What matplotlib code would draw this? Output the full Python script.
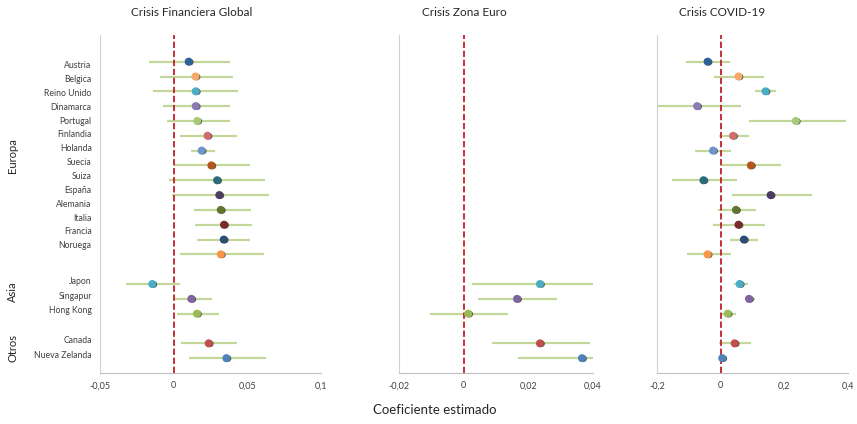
import numpy as np
import matplotlib.pyplot as plt
import matplotlib.patheffects as pe
from matplotlib.transforms import blended_transform_factory

plt.rcParams['font.family'] = ['Lato', 'DejaVu Sans']

countries = ["Austria", "Belgica", "Reino Unido", "Dinamarca", "Portugal", "Finlandia",
             "Holanda", "Suecia", "Suiza", "España", "Alemania", "Italia", "Francia",
             "Noruega", "Japon", "Singapur", "Hong Kong", "Canada", "Nueva Zelanda"]
groups = ["Europa"] * 14 + ["Asia"] * 3 + ["Otros"] * 2
colors = ["#30609A", "#F9A86A", "#4BACC6", "#8C7AB5", "#A9C97A", "#CD6F6C",
          "#6C95CC", "#B5561A", "#2A6B7C", "#4D3B62", "#5F7530", "#772C2A", "#2C4D75",
          "#F79646", "#4BACC6", "#8064A2", "#9BBB59", "#C0504D", "#4F81BD"]

# Crisis Financiera Global
gfc_est = [0.0102, 0.0148, 0.015, 0.015, 0.016, 0.023, 0.019, 0.0256, 0.0295, 0.031,
           0.032, 0.0342, 0.034, 0.032, -0.0145, 0.012, 0.0158, 0.0238, 0.0358]
gfc_lo = [-0.017, -0.0095, -0.014, -0.0075, -0.0045, 0.004, 0.012, 0.0, -0.003, -0.0014,
          0.0136, 0.0148, 0.016, 0.004, -0.0324, 0.0, 0.002, 0.005, 0.0104]
gfc_hi = [0.038, 0.040, 0.044, 0.038, 0.038, 0.043, 0.028, 0.052, 0.062, 0.0646,
          0.0526, 0.0535, 0.052, 0.061, 0.0043, 0.026, 0.0307, 0.0428, 0.0627]

# Crisis Zona Euro (solo Asia y Otros)
euro_est = [np.nan] * 14 + [0.0236, 0.0165, 0.0014, 0.0236, 0.0366]
euro_lo = [np.nan] * 14 + [0.0027, 0.0044, -0.0104, 0.0088, 0.0167]
euro_hi = [np.nan] * 14 + [0.040, 0.0289, 0.0138, 0.039, 0.040]

# Crisis COVID-19
covid_est = [-0.041, 0.056, 0.141, -0.074, 0.236, 0.039, -0.024, 0.095, -0.054, 0.157,
             0.048, 0.056, 0.073, -0.041, 0.060, 0.089, 0.022, 0.044, 0.005]
covid_lo = [-0.108, -0.021, 0.107, -0.198, 0.088, -0.004, -0.080, 0.0, -0.152, 0.035,
            -0.008, -0.025, 0.030, -0.105, 0.043, 0.077, -0.001, -0.005, -0.005]
covid_hi = [0.029, 0.136, 0.175, 0.063, 0.394, 0.090, 0.034, 0.190, 0.050, 0.287,
            0.111, 0.139, 0.116, 0.031, 0.087, 0.107, 0.048, 0.094, 0.019]

titles = ["Crisis Financiera Global", "Crisis Zona Euro", "Crisis COVID-19"]
xticks = [[-0.05, 0, 0.05, 0.1], [-0.02, 0, 0.02, 0.04], [-0.2, 0, 0.2, 0.4]]
xticklabels = [["-0,05", "0", "0,05", "0,1"], ["-0,02", "0", "0,02", "0,04"],
               ["-0,2", "0", "0,2", "0,4"]]

# row positions: blank row between groups
rows = []
r = 0
prev = groups[0]
for g in groups:
    if g != prev:
        r += 1
        prev = g
    rows.append(r)
    r += 1
rows = np.array(rows)

fig = plt.figure(figsize=(8.57, 4.24), dpi=100)
boxes = [[100, 221], [399, 194], [657, 191]]
data = [(gfc_est, gfc_lo, gfc_hi), (euro_est, euro_lo, euro_hi), (covid_est, covid_lo, covid_hi)]
title_x = [0.416, 0.335, 0.34]

shadow = [pe.SimplePatchShadow(offset=(1.1, -0.3), shadow_rgbFace="#2a2a2a", alpha=0.8), pe.Normal()]

axes = []
for k in range(3):
    x0, w = boxes[k]
    ax = fig.add_axes([x0 / 857, 1 - 373 / 424, w / 857, 338 / 424])
    axes.append(ax)
    est, lo, hi = data[k]
    for i in range(len(countries)):
        if np.isnan(est[i]):
            continue
        ax.plot([lo[i], hi[i]], [rows[i], rows[i]], color="#C4D79B", lw=1.6,
                solid_capstyle="butt", zorder=2)
        ax.plot(est[i], rows[i], "o", color=colors[i], ms=4.8, mec=colors[i],
                zorder=4, path_effects=shadow)
    ax.axvline(0, color="#C0202A", lw=1.3, ls=(0, (3.5, 1.5)), zorder=3)
    ax.set_xlim(xticks[k][0], xticks[k][-1])
    ax.set_ylim(21.0, -1.8)
    ax.set_xticks(xticks[k], xticklabels[k])
    ax.tick_params(axis="x", length=0, pad=6, labelsize=6.5, labelcolor="#404040")
    ax.spines["top"].set_visible(False)
    ax.spines["right"].set_visible(False)
    ax.spines["bottom"].set_color("#BFBFBF")
    ax.spines["left"].set_color("#D0D0D0")
    ax.spines["left"].set_linestyle((0, (1, 1)))
    ax.text(title_x[k], 1.068, titles[k], transform=ax.transAxes, ha="center",
            va="center", fontsize=8.5, color="#262626")
    if k == 0:
        label_y = []
        for i, rr in enumerate(rows):
            if groups[i] == "Europa":
                label_y.append(0.2 + 0.935 * rr)
            else:
                label_y.append(rr - 0.25)
        ax.set_yticks(label_y, countries)
        ax.tick_params(axis="y", length=0, pad=6, labelsize=6.2, labelcolor="#404040")
    else:
        ax.set_yticks([])

trans = blended_transform_factory(fig.transFigure, axes[0].transData)
group_y = {"Europa": 6.3, "Asia": 15.5, "Otros": 19.3}
for g in ["Europa", "Asia", "Otros"]:
    axes[0].text(0.015, group_y[g], g, transform=trans, rotation=90, ha="center",
                 va="center", fontsize=8, color="#262626")

fig.text(435 / 857, 1 - 410 / 424, "Coeficiente estimado", ha="center", va="center",
         fontsize=9.5, color="#262626")

fig.savefig("out.png", dpi=100)
